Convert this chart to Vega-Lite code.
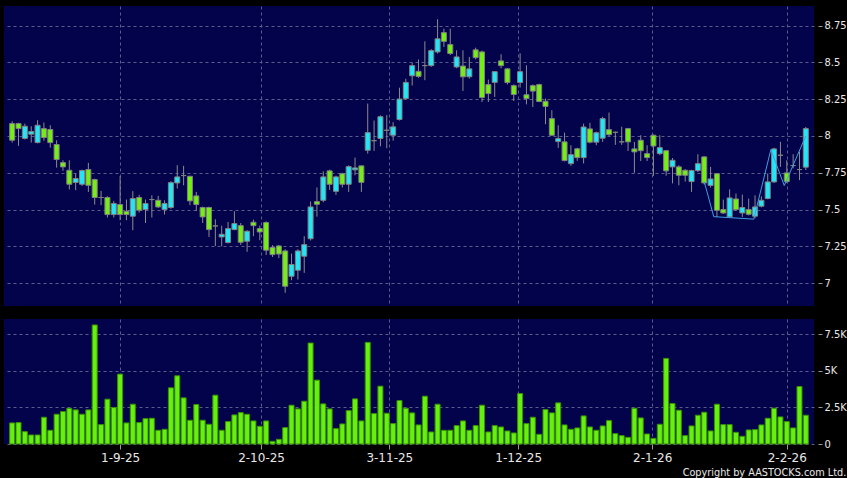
{
  "$schema": "https://vega.github.io/schema/vega-lite/v6.json",
  "background": "#000000",
  "padding": {"left": 4, "top": 6, "right": 0, "bottom": 0},
  "config": {
    "view": {"fill": "#03034b", "stroke": null},
    "axis": {"gridColor": "#5c5c8c", "gridDash": [3, 3], "gridWidth": 1, "domain": false, "title": null, "tickColor": "#9a9a9a", "labelColor": "#e8e8e8"}
  },
  "spacing": 13,
  "datasets": {
    "ohlc": [
      {"i":0,"open":8.084,"high":8.100,"low":7.955,"close":7.971,"volume":1441},
      {"i":1,"open":8.084,"high":8.090,"low":7.933,"close":8.050,"volume":1464},
      {"i":2,"open":7.983,"high":8.084,"low":7.976,"close":8.066,"volume":846},
      {"i":3,"open":8.012,"high":8.066,"low":7.955,"close":8.030,"volume":617},
      {"i":4,"open":7.955,"high":8.107,"low":7.950,"close":8.073,"volume":617},
      {"i":5,"open":8.050,"high":8.091,"low":7.967,"close":7.989,"volume":1830},
      {"i":6,"open":8.044,"high":8.073,"low":7.921,"close":7.955,"volume":938},
      {"i":7,"open":7.942,"high":7.971,"low":7.785,"close":7.840,"volume":2035},
      {"i":8,"open":7.819,"high":7.835,"low":7.763,"close":7.790,"volume":2218},
      {"i":9,"open":7.767,"high":7.835,"low":7.636,"close":7.672,"volume":2447},
      {"i":10,"open":7.684,"high":7.745,"low":7.632,"close":7.711,"volume":2333},
      {"i":11,"open":7.672,"high":7.772,"low":7.660,"close":7.765,"volume":2035},
      {"i":12,"open":7.772,"high":7.817,"low":7.620,"close":7.665,"volume":2333},
      {"i":13,"open":7.704,"high":7.710,"low":7.534,"close":7.582,"volume":8142},
      {"i":14,"open":7.582,"high":7.627,"low":7.530,"close":7.582,"volume":1326},
      {"i":15,"open":7.582,"high":7.590,"low":7.446,"close":7.466,"volume":3065},
      {"i":16,"open":7.466,"high":7.559,"low":7.446,"close":7.541,"volume":2493},
      {"i":17,"open":7.534,"high":7.727,"low":7.428,"close":7.466,"volume":4780},
      {"i":18,"open":7.489,"high":7.568,"low":7.428,"close":7.466,"volume":1441},
      {"i":19,"open":7.455,"high":7.625,"low":7.360,"close":7.575,"volume":2722},
      {"i":20,"open":7.582,"high":7.600,"low":7.480,"close":7.496,"volume":1464},
      {"i":21,"open":7.500,"high":7.568,"low":7.409,"close":7.541,"volume":1738},
      {"i":22,"open":7.568,"high":7.597,"low":7.446,"close":7.568,"volume":1761},
      {"i":23,"open":7.563,"high":7.593,"low":7.510,"close":7.518,"volume":938},
      {"i":24,"open":7.500,"high":7.563,"low":7.466,"close":7.541,"volume":1006},
      {"i":25,"open":7.514,"high":7.692,"low":7.505,"close":7.683,"volume":3842},
      {"i":26,"open":7.681,"high":7.801,"low":7.643,"close":7.722,"volume":4666},
      {"i":27,"open":7.731,"high":7.797,"low":7.665,"close":7.731,"volume":3156},
      {"i":28,"open":7.726,"high":7.730,"low":7.530,"close":7.559,"volume":1624},
      {"i":29,"open":7.593,"high":7.620,"low":7.491,"close":7.534,"volume":2699},
      {"i":30,"open":7.514,"high":7.520,"low":7.409,"close":7.450,"volume":1624},
      {"i":31,"open":7.514,"high":7.520,"low":7.314,"close":7.364,"volume":1349},
      {"i":32,"open":7.389,"high":7.434,"low":7.253,"close":7.389,"volume":3339},
      {"i":33,"open":7.314,"high":7.390,"low":7.250,"close":7.332,"volume":938},
      {"i":34,"open":7.276,"high":7.416,"low":7.270,"close":7.371,"volume":1532},
      {"i":35,"open":7.364,"high":7.489,"low":7.360,"close":7.405,"volume":1990},
      {"i":36,"open":7.391,"high":7.409,"low":7.260,"close":7.278,"volume":2150},
      {"i":37,"open":7.285,"high":7.360,"low":7.213,"close":7.353,"volume":2035},
      {"i":38,"open":7.414,"high":7.432,"low":7.319,"close":7.391,"volume":1578},
      {"i":39,"open":7.371,"high":7.391,"low":7.292,"close":7.348,"volume":1212},
      {"i":40,"open":7.412,"high":7.420,"low":7.192,"close":7.224,"volume":1578},
      {"i":41,"open":7.242,"high":7.258,"low":7.178,"close":7.194,"volume":183},
      {"i":42,"open":7.253,"high":7.260,"low":7.170,"close":7.198,"volume":320},
      {"i":43,"open":7.219,"high":7.230,"low":6.935,"close":6.979,"volume":1121},
      {"i":44,"open":7.047,"high":7.201,"low":7.020,"close":7.127,"volume":2653},
      {"i":45,"open":7.088,"high":7.230,"low":7.025,"close":7.219,"volume":2401},
      {"i":46,"open":7.183,"high":7.319,"low":7.070,"close":7.262,"volume":2927},
      {"i":47,"open":7.302,"high":7.555,"low":7.290,"close":7.518,"volume":6907},
      {"i":48,"open":7.554,"high":7.650,"low":7.452,"close":7.536,"volume":4368},
      {"i":49,"open":7.563,"high":7.760,"low":7.550,"close":7.722,"volume":2744},
      {"i":50,"open":7.763,"high":7.771,"low":7.633,"close":7.672,"volume":2401},
      {"i":51,"open":7.624,"high":7.730,"low":7.600,"close":7.722,"volume":1052},
      {"i":52,"open":7.744,"high":7.750,"low":7.650,"close":7.672,"volume":1372},
      {"i":53,"open":7.672,"high":7.800,"low":7.620,"close":7.792,"volume":2287},
      {"i":54,"open":7.770,"high":7.853,"low":7.733,"close":7.783,"volume":3087},
      {"i":55,"open":7.797,"high":7.800,"low":7.620,"close":7.685,"volume":1578},
      {"i":56,"open":7.903,"high":8.220,"low":7.880,"close":8.023,"volume":6952},
      {"i":57,"open":7.968,"high":8.105,"low":7.899,"close":7.968,"volume":2081},
      {"i":58,"open":7.983,"high":8.140,"low":7.930,"close":8.131,"volume":3956},
      {"i":59,"open":8.039,"high":8.142,"low":7.917,"close":8.039,"volume":2104},
      {"i":60,"open":8.005,"high":8.094,"low":7.968,"close":8.062,"volume":1395},
      {"i":61,"open":8.112,"high":8.328,"low":8.105,"close":8.251,"volume":2973},
      {"i":62,"open":8.254,"high":8.389,"low":8.245,"close":8.364,"volume":2447},
      {"i":63,"open":8.409,"high":8.496,"low":8.343,"close":8.478,"volume":2127},
      {"i":64,"open":8.439,"high":8.520,"low":8.395,"close":8.405,"volume":1304},
      {"i":65,"open":8.478,"high":8.643,"low":8.379,"close":8.478,"volume":3270},
      {"i":66,"open":8.478,"high":8.590,"low":8.470,"close":8.580,"volume":823},
      {"i":67,"open":8.571,"high":8.793,"low":8.560,"close":8.660,"volume":2722},
      {"i":68,"open":8.702,"high":8.729,"low":8.605,"close":8.643,"volume":938},
      {"i":69,"open":8.621,"high":8.729,"low":8.550,"close":8.560,"volume":938},
      {"i":70,"open":8.469,"high":8.582,"low":8.460,"close":8.537,"volume":1258},
      {"i":71,"open":8.475,"high":8.582,"low":8.306,"close":8.402,"volume":1578},
      {"i":72,"open":8.402,"high":8.537,"low":8.390,"close":8.456,"volume":938},
      {"i":73,"open":8.585,"high":8.600,"low":8.520,"close":8.532,"volume":1258},
      {"i":74,"open":8.571,"high":8.580,"low":8.231,"close":8.261,"volume":2653},
      {"i":75,"open":8.349,"high":8.383,"low":8.231,"close":8.288,"volume":823},
      {"i":76,"open":8.364,"high":8.440,"low":8.265,"close":8.437,"volume":1258},
      {"i":77,"open":8.510,"high":8.555,"low":8.460,"close":8.478,"volume":1166},
      {"i":78,"open":8.456,"high":8.460,"low":8.350,"close":8.363,"volume":892},
      {"i":79,"open":8.342,"high":8.350,"low":8.238,"close":8.282,"volume":755},
      {"i":80,"open":8.363,"high":8.562,"low":8.329,"close":8.437,"volume":3453},
      {"i":81,"open":8.280,"high":8.480,"low":8.215,"close":8.254,"volume":1395},
      {"i":82,"open":8.342,"high":8.350,"low":8.197,"close":8.305,"volume":1830},
      {"i":83,"open":8.349,"high":8.355,"low":8.230,"close":8.234,"volume":663},
      {"i":84,"open":8.236,"high":8.254,"low":8.080,"close":8.201,"volume":2356},
      {"i":85,"open":8.118,"high":8.175,"low":8.000,"close":8.005,"volume":2127},
      {"i":86,"open":7.962,"high":8.073,"low":7.919,"close":7.982,"volume":2813},
      {"i":87,"open":7.960,"high":8.023,"low":7.828,"close":7.833,"volume":1304},
      {"i":88,"open":7.812,"high":7.937,"low":7.797,"close":7.873,"volume":1006},
      {"i":89,"open":7.913,"high":7.920,"low":7.831,"close":7.853,"volume":1098},
      {"i":90,"open":7.853,"high":8.084,"low":7.813,"close":8.061,"volume":1921},
      {"i":91,"open":8.048,"high":8.089,"low":7.950,"close":7.958,"volume":1166},
      {"i":92,"open":7.958,"high":8.030,"low":7.937,"close":8.022,"volume":938},
      {"i":93,"open":7.985,"high":8.130,"low":7.960,"close":8.118,"volume":1235},
      {"i":94,"open":8.043,"high":8.159,"low":8.000,"close":8.009,"volume":1601},
      {"i":95,"open":8.025,"high":8.030,"low":7.940,"close":8.025,"volume":709},
      {"i":96,"open":7.960,"high":8.063,"low":7.940,"close":7.960,"volume":572},
      {"i":97,"open":8.050,"high":8.055,"low":7.898,"close":7.960,"volume":457},
      {"i":98,"open":7.912,"high":7.960,"low":7.749,"close":7.892,"volume":2447},
      {"i":99,"open":7.971,"high":8.005,"low":7.830,"close":7.900,"volume":1784},
      {"i":100,"open":7.880,"high":7.937,"low":7.830,"close":7.853,"volume":686},
      {"i":101,"open":8.005,"high":8.010,"low":7.729,"close":7.932,"volume":389},
      {"i":102,"open":7.880,"high":8.005,"low":7.870,"close":7.921,"volume":1349},
      {"i":103,"open":7.900,"high":7.905,"low":7.730,"close":7.763,"volume":5855},
      {"i":104,"open":7.790,"high":7.850,"low":7.678,"close":7.835,"volume":2767},
      {"i":105,"open":7.790,"high":7.801,"low":7.665,"close":7.733,"volume":2310},
      {"i":106,"open":7.767,"high":7.775,"low":7.690,"close":7.733,"volume":572},
      {"i":107,"open":7.690,"high":7.770,"low":7.620,"close":7.765,"volume":1235},
      {"i":108,"open":7.765,"high":7.876,"low":7.755,"close":7.812,"volume":1967},
      {"i":109,"open":7.858,"high":7.862,"low":7.670,"close":7.681,"volume":2173},
      {"i":110,"open":7.664,"high":7.790,"low":7.650,"close":7.708,"volume":892},
      {"i":111,"open":7.744,"high":7.748,"low":7.450,"close":7.495,"volume":2722},
      {"i":112,"open":7.500,"high":7.568,"low":7.470,"close":7.477,"volume":1326},
      {"i":113,"open":7.450,"high":7.637,"low":7.445,"close":7.579,"volume":1326},
      {"i":114,"open":7.572,"high":7.609,"low":7.490,"close":7.500,"volume":800},
      {"i":115,"open":7.477,"high":7.602,"low":7.450,"close":7.514,"volume":526},
      {"i":116,"open":7.500,"high":7.575,"low":7.460,"close":7.468,"volume":961},
      {"i":117,"open":7.455,"high":7.597,"low":7.440,"close":7.518,"volume":983},
      {"i":118,"open":7.523,"high":7.590,"low":7.515,"close":7.563,"volume":1304},
      {"i":119,"open":7.575,"high":7.745,"low":7.570,"close":7.688,"volume":1761},
      {"i":120,"open":7.688,"high":7.920,"low":7.680,"close":7.912,"volume":2447},
      {"i":121,"open":7.869,"high":7.960,"low":7.790,"close":7.869,"volume":1852},
      {"i":122,"open":7.749,"high":7.835,"low":7.680,"close":7.690,"volume":1532},
      {"i":123,"open":7.799,"high":7.876,"low":7.780,"close":7.799,"volume":1098},
      {"i":124,"open":7.772,"high":7.893,"low":7.700,"close":7.772,"volume":3934},
      {"i":125,"open":7.788,"high":8.061,"low":7.769,"close":8.050,"volume":1967}
    ],
    "pattern": [
      {"i":109,"p":7.690},
      {"i":110.5,"p":7.452},
      {"i":116.8,"p":7.435},
      {"i":119.5,"p":7.908},
      {"i":121.6,"p":7.663},
      {"i":125,"p":8.000}
    ]
  },
  "vconcat": [
    {
      "width": 810,
      "height": 300,
      "layer": [
        {
          "data": {"name": "ohlc"},
          "mark": {"type": "rule", "color": "#8c8c8c", "strokeWidth": 1},
          "encoding": {
            "x": {"field": "i", "type": "quantitative", "scale": {"domain": [-0.5, 125.5], "nice": false, "zero": false},
              "axis": {"values": [17, 39.2, 59.4, 79.7, 100.8, 122], "labels": false, "ticks": false, "grid": true}},
            "y": {"field": "low", "type": "quantitative", "scale": {"domain": [6.845, 8.883], "nice": false, "zero": false},
              "axis": {"orient": "right", "values": [7, 7.25, 7.5, 7.75, 8, 8.25, 8.5, 8.75], "labelExpr": "format(datum.value, '.2~f')", "offset": 4, "tickSize": 4, "labelPadding": 2, "labelFont": "DejaVu Sans Condensed", "labelFontSize": 11, "grid": true}},
            "y2": {"field": "high"}
          }
        },
        {
          "data": {"name": "ohlc"},
          "mark": {"type": "bar", "size": 5, "stroke": "#808080", "strokeWidth": 1},
          "encoding": {
            "x": {"field": "i", "type": "quantitative"},
            "y": {"field": "open", "type": "quantitative"},
            "y2": {"field": "close"},
            "fill": {"condition": [{"test": "datum.close > datum.open", "value": "#22e6f6"}, {"test": "datum.close < datum.open", "value": "#74ee14"}], "value": "#8c8c8c"}
          }
        },
        {
          "data": {"name": "pattern"},
          "mark": {"type": "line", "color": "#3d9fe6", "strokeWidth": 1},
          "encoding": {
            "x": {"field": "i", "type": "quantitative"},
            "y": {"field": "p", "type": "quantitative"}
          }
        }
      ]
    },
    {
      "width": 810,
      "height": 125,
      "data": {"name": "ohlc"},
      "title": {"text": "Copyright by AASTOCKS.com Ltd.", "orient": "bottom", "anchor": "end", "font": "DejaVu Sans Condensed", "fontSize": 10.8, "fontWeight": "normal", "color": "#e8e8e8", "offset": 4},
      "mark": {"type": "bar", "size": 5, "fill": "#66f010", "stroke": "#3a9000", "strokeWidth": 1},
      "encoding": {
        "x": {"field": "i", "type": "quantitative", "scale": {"domain": [-0.5, 125.5], "nice": false, "zero": false},
          "axis": {"values": [17, 39.2, 59.4, 79.7, 100.8, 122], "labelExpr": "datum.value == 17 ? '1-9-25' : datum.value == 39.2 ? '2-10-25' : datum.value == 59.4 ? '3-11-25' : datum.value == 79.7 ? '1-12-25' : datum.value == 100.8 ? '2-1-26' : '2-2-26'", "tickSize": 5, "labelPadding": 3, "labelFont": "DejaVu Sans", "labelFontSize": 12, "grid": true}},
        "y": {"field": "volume", "type": "quantitative", "scale": {"domain": [0, 8550], "nice": false},
          "axis": {"orient": "right", "values": [0, 2500, 5000, 7500], "labelExpr": "datum.value == 0 ? '0' : (datum.value / 1000) + 'K'", "offset": 4, "tickSize": 4, "labelPadding": 2, "labelFont": "DejaVu Sans Condensed", "labelFontSize": 11, "grid": true}}
      }
    }
  ]
}
